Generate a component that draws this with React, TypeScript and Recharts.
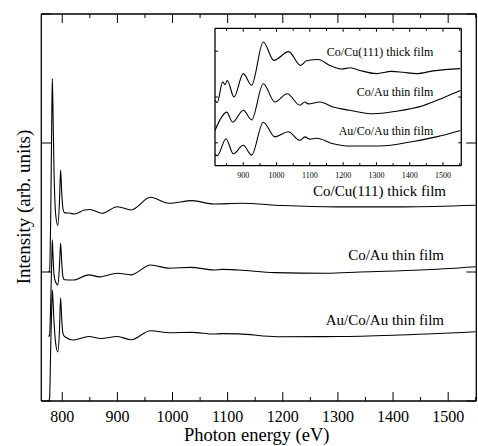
import React from 'react';
import { LineChart, Line, XAxis, YAxis } from 'recharts';

const FONT = '"Liberation Serif", "Times New Roman", Times, serif';

// ---------- main panel data (photon energy eV / intensity arb. units) ----------
const cuThickE = [775, 777, 779, 781, 782, 783, 785, 788, 792, 795, 797, 799, 801, 804, 815, 822, 840, 850, 872, 900, 925, 960, 993, 1036, 1075, 1125, 1200, 1300, 1420, 1550];
const cuThickI = [1.0, 1.01, 1.4, 2.2, 2.5, 2.3, 1.8, 1.45, 1.36, 1.55, 1.79, 1.62, 1.5, 1.46, 1.455, 1.45, 1.48, 1.485, 1.455, 1.506, 1.481, 1.579, 1.533, 1.553, 1.527, 1.533, 1.515, 1.505, 1.505, 1.517];

const coAuE = [775, 777, 779, 781, 782, 783, 785, 788, 792, 795, 797, 799, 801, 804, 820, 848, 868, 900, 925, 960, 995, 1033, 1075, 1090, 1120, 1185, 1280, 1340, 1450, 1550];
const coAuI = [0.5, 0.51, 0.75, 1.1, 1.25, 1.15, 0.98, 0.92, 0.9, 1.05, 1.225, 1.08, 0.97, 0.94, 0.938, 0.978, 0.962, 0.99, 0.978, 1.054, 1.029, 1.036, 1.016, 1.02, 1.015, 0.995, 0.99, 1.0, 1.015, 1.041];

const auCoAuE = [775, 777, 779, 781, 782, 783, 785, 788, 792, 795, 797, 799, 801, 804, 820, 848, 870, 900, 925, 960, 995, 1035, 1075, 1090, 1120, 1190, 1300, 1400, 1550];
const auCoAuI = [0.0, 0.02, 0.4, 0.75, 0.86, 0.8, 0.62, 0.45, 0.38, 0.55, 0.8, 0.64, 0.53, 0.5, 0.473, 0.5, 0.485, 0.5, 0.475, 0.545, 0.529, 0.532, 0.519, 0.522, 0.52, 0.498, 0.5, 0.51, 0.537];

// ---------- inset data ----------
const inCuE = [815, 822, 838, 845, 852, 872, 900, 925, 960, 992, 1036, 1072, 1090, 1125, 1160, 1195, 1222, 1250, 1300, 1345, 1380, 1420, 1470, 1552];
const inCuI = [1.43, 1.38, 1.83, 1.77, 1.86, 1.5, 2.01, 1.755, 2.7, 2.3, 2.49, 2.19, 2.29, 2.32, 2.19, 2.11, 2.14, 2.08, 2.01, 2.06, 2.04, 2.01, 2.07, 2.12];

const inCoAuE = [815, 830, 850, 868, 900, 925, 960, 995, 1032, 1070, 1085, 1095, 1130, 1170, 1220, 1290, 1360, 1440, 1500, 1552];
const inCoAuI = [0.77, 1.0, 1.17, 0.95, 1.21, 1.0, 1.79, 1.39, 1.57, 1.32, 1.39, 1.35, 1.39, 1.28, 1.21, 1.135, 1.19, 1.31, 1.48, 1.64];

const inAuCoAuE = [815, 822, 848, 870, 900, 925, 960, 995, 1035, 1070, 1085, 1100, 1120, 1170, 1220, 1310, 1410, 1480, 1552];
const inAuCoAuI = [0.25, 0.22, 0.59, 0.26, 0.445, 0.23, 0.95, 0.63, 0.74, 0.555, 0.63, 0.58, 0.6, 0.48, 0.43, 0.43, 0.53, 0.63, 0.77];

// ---------- ticks / labels ----------
const mainXTicks = [800, 850, 900, 950, 1000, 1050, 1100, 1150, 1200, 1250, 1300, 1350, 1400, 1450, 1500, 1550];
const mainYTicks = [0, 1, 2, 3];
const insetXTicks = [850, 900, 950, 1000, 1050, 1100, 1150, 1200, 1250, 1300, 1350, 1400, 1450, 1500, 1550];
const insetYTicks = [0.5, 1.5, 2.5];
const seriesNames = ['Co/Cu(111) thick film', 'Co/Au thin film', 'Au/Co/Au thin film'];
const xTitle = 'Photon energy (eV)';
const yTitle = 'Intensity (arb. units)';

const zip = (e: number[], v: number[]) => e.map((x, i) => ({ x, y: v[i] }));

const mainSeries = [zip(cuThickE, cuThickI), zip(coAuE, coAuI), zip(auCoAuE, auCoAuI)];
const insetSeries = [zip(inCuE, inCuI), zip(inCoAuE, inCoAuI), zip(inAuCoAuE, inAuCoAuI)];

type Side = 'bottom' | 'top' | 'left' | 'right';
const makeTick = (side: Side, major: number, minor: number, label: boolean, fontSize: number, labelDy: number) => (p: any) => {
  const v = p.payload.value;
  const big = side === 'left' || side === 'right' ? true : Math.abs(v % 100) < 1e-6;
  const len = big ? major : minor;
  let x2 = p.x;
  let y2 = p.y;
  if (side === 'bottom') y2 = p.y - len;
  else if (side === 'top') y2 = p.y + len;
  else if (side === 'left') x2 = p.x + len;
  else x2 = p.x - len;
  return (
    <g>
      <line x1={p.x} y1={p.y} x2={x2} y2={y2} stroke="#000" strokeWidth={1} />
      {label && big ? (
        <text x={p.x} y={p.y + labelDy} textAnchor="middle" fontSize={fontSize} fontFamily={FONT} fill="#000">
          {v}
        </text>
      ) : null}
    </g>
  );
};

const axisLine = { stroke: '#000', strokeWidth: 1.3 };

export default function App() {
  return (
    <div style={{ position: 'absolute', left: 0, top: 0, width: 478, height: 446, background: '#fff' }}>
      <div style={{ position: 'absolute', left: 0, top: 0 }}>
        <LineChart width={478} height={446} margin={{ top: 0, right: 0, bottom: 0, left: 0 }}>
          <XAxis xAxisId="b" type="number" dataKey="x" domain={[762, 1551]} allowDataOverflow ticks={mainXTicks} interval={0}
            orientation="bottom" height={45} tickSize={0} tickMargin={0} tickLine={false} axisLine={axisLine}
            tick={makeTick('bottom', 9, 4, true, 16, 20.7)} />
          <XAxis xAxisId="t" type="number" dataKey="x" domain={[762, 1551]} allowDataOverflow ticks={mainXTicks} interval={0}
            orientation="top" height={14} tickSize={0} tickMargin={0} tickLine={false} axisLine={axisLine}
            tick={makeTick('top', 9, 4, false, 16, 0)} />
          <YAxis yAxisId="l" type="number" domain={[0, 3]} allowDataOverflow ticks={mainYTicks} interval={0}
            orientation="left" width={41.3} tickSize={0} tickMargin={0} tickLine={false} axisLine={axisLine}
            tick={makeTick('left', 10, 10, false, 16, 0)} />
          <YAxis yAxisId="r" type="number" domain={[0, 3]} allowDataOverflow ticks={mainYTicks} interval={0}
            orientation="right" width={1.7} tickSize={0} tickMargin={0} tickLine={false} axisLine={axisLine}
            tick={makeTick('right', 10, 10, false, 16, 0)} />
          {mainSeries.map((d, i) => (
            <Line key={i} xAxisId="b" yAxisId="l" data={d} dataKey="y" type="monotone" dot={false}
              stroke="#000" strokeWidth={1.1} isAnimationActive={false} />
          ))}
        </LineChart>
      </div>
      <div style={{ position: 'absolute', left: 205, top: 18 }}>
        <LineChart width={265} height={170} margin={{ top: 0, right: 0, bottom: 0, left: 0 }}>
          <XAxis xAxisId="b" type="number" dataKey="x" domain={[815, 1555]} allowDataOverflow ticks={insetXTicks} interval={0}
            orientation="bottom" height={22.3} tickSize={0} tickMargin={0} tickLine={false} axisLine={axisLine}
            tick={makeTick('bottom', 3.5, 2.5, true, 8, 12)} />
          <XAxis xAxisId="t" type="number" dataKey="x" domain={[815, 1555]} allowDataOverflow ticks={insetXTicks} interval={0}
            orientation="top" height={10.3} tickSize={0} tickMargin={0} tickLine={false} axisLine={axisLine}
            tick={makeTick('top', 3.5, 2.5, false, 8, 0)} />
          <YAxis yAxisId="l" type="number" domain={[0, 3]} allowDataOverflow ticks={insetYTicks} interval={0}
            orientation="left" width={10} tickSize={0} tickMargin={0} tickLine={false} axisLine={axisLine}
            tick={makeTick('left', 3, 3, false, 8, 0)} />
          <YAxis yAxisId="r" type="number" domain={[0, 3]} allowDataOverflow ticks={insetYTicks} interval={0}
            orientation="right" width={8.7} tickSize={0} tickMargin={0} tickLine={false} axisLine={axisLine}
            tick={makeTick('right', 3, 3, false, 8, 0)} />
          {insetSeries.map((d, i) => (
            <Line key={i} xAxisId="b" yAxisId="l" data={d} dataKey="y" type="monotone" dot={false}
              stroke="#000" strokeWidth={1.1} isAnimationActive={false} />
          ))}
        </LineChart>
      </div>
      <svg width={478} height={446} style={{ position: 'absolute', left: 0, top: 0, pointerEvents: 'none' }}>
        <g fontFamily={FONT} fill="#000">
          <text x={446} y={195.5} fontSize={15} textAnchor="end">{seriesNames[0]}</text>
          <text x={444} y={260} fontSize={15} textAnchor="end">{seriesNames[1]}</text>
          <text x={444} y={325} fontSize={15} textAnchor="end">{seriesNames[2]}</text>
          <text x={433.3} y={56.3} fontSize={12} textAnchor="end">{seriesNames[0]}</text>
          <text x={433.3} y={96} fontSize={12} textAnchor="end">{seriesNames[1]}</text>
          <text x={433.3} y={134.5} fontSize={12} textAnchor="end">{seriesNames[2]}</text>
          <text x={256.7} y={441} fontSize={18.5} textAnchor="middle">{xTitle}</text>
          <text x={29.5} y={207} fontSize={19} textAnchor="middle" transform="rotate(-90 29.5 207)">{yTitle}</text>
        </g>
      </svg>
    </div>
  );
}
